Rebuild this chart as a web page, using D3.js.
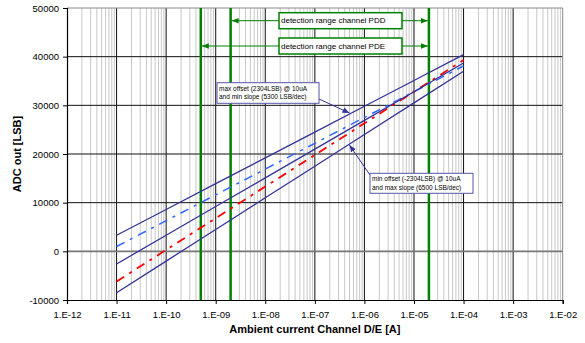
<!DOCTYPE html>
<html lang="en">
<head>
<meta charset="utf-8">
<script src="https://d3js.org/d3.v7.min.js"></script>
<style>
body { margin:0; background:#fff; }
svg text { font-family: "Liberation Sans", Arial, sans-serif; fill:#000; }
</style>
</head>
<body>
<script>
// x positions of the data points (one per decade)
var currents = [1e-11, 1e-10, 1e-9, 1e-8, 1e-7, 1e-6, 1e-5, 1e-4];

// ADC output in LSB
var maxOffsetMinSlope = [3304, 8604, 13904, 19204, 24504, 29804, 35104, 40404];
var nominalLine = [-2600, 3300, 9200, 15100, 21000, 26900, 32800, 38700];
var minOffsetMaxSlope = [-8504, -2004, 4496, 10996, 17496, 23996, 30496, 36996];
var maxSlopeLine = [-6200, 300, 6800, 13300, 19800, 26300, 32800, 39300];
var minSlopeLine = [1000, 6300, 11600, 16900, 22200, 27500, 32800, 38100];

var xTicks = [1e-12, 1e-11, 1e-10, 1e-9, 1e-8, 1e-7, 1e-6, 1e-5, 1e-4, 1e-3, 1e-2];
var xTickLabels = ["1.E-12", "1.E-11", "1.E-10", "1.E-09", "1.E-08", "1.E-07", "1.E-06", "1.E-05", "1.E-04", "1.E-03", "1.E-02"];
var yTicks = [-10000, 0, 10000, 20000, 30000, 40000, 50000];

var pddRange = [2e-9, 2e-5];
var pdeRange = [5e-10, 2e-5];
var greenLines = [5e-10, 2e-9, 2e-5];

var w = 585, h = 343;
var pLeft = 67, pRight = 562.7, pTop = 8, pBottom = 300;

var xScale = d3.scaleLog().domain([1e-12, 1e-2]).range([pLeft, pRight]);
var yScale = d3.scaleLinear().domain([-10000, 50000]).range([pBottom, pTop]);

var svg = d3.select("body").append("svg")
	.attr("width", w)
	.attr("height", h);

var defs = svg.append("defs");
function marker(id, color, size) {
	defs.append("marker")
		.attr("id", id)
		.attr("viewBox", "0 0 10 10")
		.attr("refX", 10).attr("refY", 5)
		.attr("markerUnits", "userSpaceOnUse")
		.attr("markerWidth", size).attr("markerHeight", size)
		.attr("orient", "auto-start-reverse")
		.append("path")
		.attr("d", "M0,1 L10,5 L0,9 Z")
		.attr("fill", color);
}
marker("arrGreen", "#008000", 7);
marker("arrNavy", "#333399", 7);

// minor vertical grid
var minor = [];
xTicks.slice(0, -1).forEach(function(d) {
	for (var k = 2; k <= 9; k++) minor.push(d * k);
});
svg.append("g").selectAll("line")
	.data(minor).enter().append("line")
	.attr("x1", function(d) { return xScale(d); })
	.attr("x2", function(d) { return xScale(d); })
	.attr("y1", pTop).attr("y2", pBottom)
	.attr("stroke", "#c8c8c8").attr("stroke-width", 1);

// major vertical grid
svg.append("g").selectAll("line")
	.data(xTicks.slice(1, -1)).enter().append("line")
	.attr("x1", function(d) { return xScale(d); })
	.attr("x2", function(d) { return xScale(d); })
	.attr("y1", pTop).attr("y2", pBottom)
	.attr("stroke", "#111").attr("stroke-width", 1);

// horizontal grid
svg.append("g").selectAll("line")
	.data(yTicks.slice(1)).enter().append("line")
	.attr("x1", pLeft).attr("x2", pRight)
	.attr("y1", function(d) { return yScale(d); })
	.attr("y2", function(d) { return yScale(d); })
	.attr("stroke", function(d) { return d === 0 ? "#777" : (d === 50000 ? "#888" : "#111"); })
	.attr("stroke-width", function(d) { return d === 0 ? 1.6 : 1; });

// right border
svg.append("line")
	.attr("x1", pRight).attr("x2", pRight).attr("y1", pTop).attr("y2", pBottom)
	.attr("stroke", "#888").attr("stroke-width", 1);

// green detection limits
svg.append("g").selectAll("line")
	.data(greenLines).enter().append("line")
	.attr("x1", function(d) { return xScale(d); })
	.attr("x2", function(d) { return xScale(d); })
	.attr("y1", pTop).attr("y2", pBottom)
	.attr("stroke", "#008000").attr("stroke-width", 2.5);

// data lines
var line = d3.line()
	.x(function(d) { return xScale(d[0]); })
	.y(function(d) { return yScale(d[1]); });

function pairs(values) {
	return currents.map(function(c, i) { return [c, values[i]]; });
}

var series = [
	{ values: minSlopeLine, color: "#3366ff", width: 1.5, dash: "9,6,3,6" },
	{ values: maxSlopeLine, color: "#ff0000", width: 1.8, dash: "9,6,3,6" },
	{ values: maxOffsetMinSlope, color: "#333399", width: 1.3, dash: null },
	{ values: nominalLine, color: "#333399", width: 1.3, dash: null },
	{ values: minOffsetMaxSlope, color: "#333399", width: 1.3, dash: null }
];

svg.append("g").selectAll("path")
	.data(series).enter().append("path")
	.attr("d", function(d) { return line(pairs(d.values)); })
	.attr("fill", "none")
	.attr("stroke", function(d) { return d.color; })
	.attr("stroke-width", function(d) { return d.width; })
	.attr("stroke-dasharray", function(d) { return d.dash; });

// axes
var xAxis = d3.axisBottom(xScale)
	.tickValues(xTicks)
	.tickSize(4)
	.tickFormat(function(d, i) { return xTickLabels[i]; });
var gx = svg.append("g")
	.attr("transform", "translate(0," + pBottom + ")")
	.call(xAxis);
gx.attr("font-family", null);
gx.selectAll("text").attr("font-size", "9.5px").attr("dy", "1.15em");

var yAxis = d3.axisLeft(yScale)
	.tickValues(yTicks)
	.tickSize(4)
	.tickFormat(function(d) { return d; });
var gy = svg.append("g")
	.attr("transform", "translate(" + pLeft + ",0)")
	.call(yAxis);
gy.attr("font-family", null);
gy.selectAll("text").attr("font-size", "9.5px").attr("x", -8);

[gx, gy].forEach(function(g) {
	g.select(".domain").attr("stroke", "#000").attr("stroke-width", 1.2);
	g.selectAll(".tick line").attr("stroke", "#000");
});

// axis titles
svg.append("text")
	.attr("x", (pLeft + pRight) / 2)
	.attr("y", 333)
	.attr("text-anchor", "middle")
	.attr("font-size", "11px")
	.attr("font-weight", "bold")
	.text("Ambient current Channel D/E [A]");

svg.append("text")
	.attr("transform", "translate(21," + ((pTop + pBottom) / 2) + ") rotate(-90)")
	.attr("text-anchor", "middle")
	.attr("font-size", "11px")
	.attr("font-weight", "bold")
	.text("ADC out [LSB]");

// detection range arrows and boxes
var ranges = [
	{ range: pddRange, label: "detection range channel PDD", y: 20.7 },
	{ range: pdeRange, label: "detection range channel PDE", y: 46 }
];
ranges.forEach(function(r) {
	var boxX = 279, boxW = 123, boxH = 16;
	svg.append("line")
		.attr("x1", xScale(r.range[0]) + 1).attr("x2", xScale(r.range[1]) - 1)
		.attr("y1", r.y).attr("y2", r.y)
		.attr("stroke", "#008000").attr("stroke-width", 1)
		.attr("marker-start", "url(#arrGreen)")
		.attr("marker-end", "url(#arrGreen)");
	svg.append("rect")
		.attr("x", boxX).attr("y", r.y - boxH / 2)
		.attr("width", boxW).attr("height", boxH)
		.attr("fill", "#fff").attr("stroke", "#008000").attr("stroke-width", 1.5);
	svg.append("text")
		.attr("x", boxX + 2).attr("y", r.y + 2.5)
		.attr("font-size", "8px")
		.text(r.label);
});

// callouts
var callouts = [
	{ lines: ["max offset (2304LSB) @ 10uA", "and min slope (5300 LSB/dec)"],
	  box: [217, 82.7, 102, 20.6], from: [319, 99], to: [5e-7, maxOffsetMinSlope] },
	{ lines: ["min offset (-2304LSB) @ 10uA", "and max slope (6500 LSB/dec)"],
	  box: [370, 173.3, 103, 20], from: [370, 175], to: [5e-7, minOffsetMaxSlope] }
];
callouts.forEach(function(c) {
	// point on the target line at the arrow tip
	var tx = c.to[0];
	var ty = d3.scaleLog().domain(currents).range(c.to[1])(tx);
	svg.append("line")
		.attr("x1", c.from[0]).attr("y1", c.from[1])
		.attr("x2", xScale(tx)).attr("y2", yScale(ty) + (c.from[1] < yScale(ty) ? -1 : 1))
		.attr("stroke", "#333399").attr("stroke-width", 1)
		.attr("marker-end", "url(#arrNavy)");
	svg.append("rect")
		.attr("x", c.box[0]).attr("y", c.box[1])
		.attr("width", c.box[2]).attr("height", c.box[3])
		.attr("fill", "#fff").attr("stroke", "#5555aa").attr("stroke-width", 1);
	c.lines.forEach(function(t, i) {
		svg.append("text")
			.attr("x", c.box[0] + 2).attr("y", c.box[1] + 8 + i * 8.5)
			.attr("font-size", "6.5px")
			.text(t);
	});
});
</script>
</body>
</html>
